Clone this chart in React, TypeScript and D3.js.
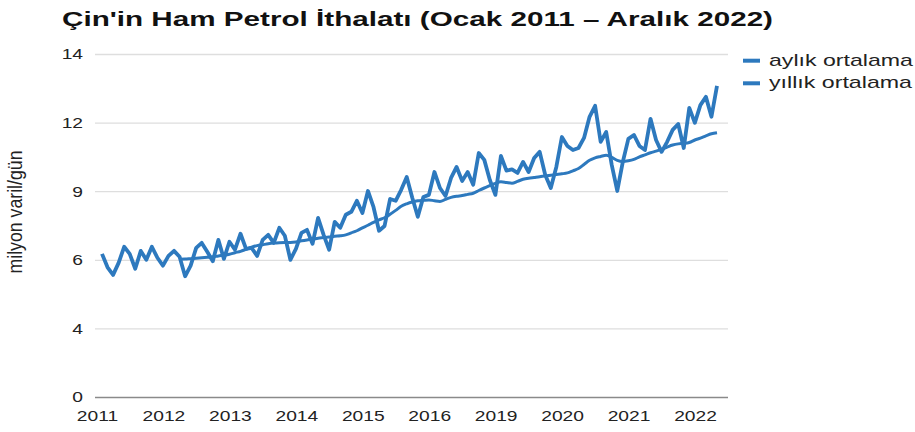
import React, { useEffect, useRef } from 'react';
import * as d3 from 'd3';

const title = "Çin'in Ham Petrol İthalatı (Ocak 2011 – Aralık 2022)";
const yAxisTitle = 'milyon varil/gün';
const seriesNames = ['aylık ortalama', 'yıllık ortalama'];
const yTickLabels = [0, 4, 6, 9, 12, 14];
const xTickLabels = ['2011', '2012', '2013', '2014', '2015', '2016', '2019', '2020', '2021', '2022'];

// monthly values, one per month from the start of the line
const monthly = [
  6.26, 5.78, 5.56, 5.91, 6.57, 6.26, 5.74, 6.39, 6.0, 6.57,
  6.09, 5.83, 6.17, 6.39, 6.13, 5.52, 5.83, 6.52, 6.74, 6.35,
  5.96, 6.87, 6.04, 6.79, 6.44, 7.14, 6.48, 6.52, 6.17, 6.87,
  7.09, 6.74, 7.4, 7.05, 6.0, 6.48, 7.18, 7.31, 6.7, 7.83,
  7.09, 6.44, 7.66, 7.4, 7.97, 8.1, 8.58, 8.05, 9.01, 8.31,
  7.27, 7.48, 8.66, 8.58, 9.06, 9.62, 8.71, 7.88, 8.75, 8.84,
  9.84, 9.14, 8.79, 9.58, 10.06, 9.45, 9.84, 9.28, 10.67, 10.37,
  9.49, 8.84, 10.54, 9.9, 9.95, 9.8, 10.28, 9.84, 10.45, 10.72,
  9.71, 9.14, 10.06, 11.37, 10.98, 10.8, 10.89, 11.33, 12.17, 12.49,
  11.16, 11.59, 10.15, 9.01, 10.28, 11.29, 11.46, 10.98, 10.8, 12.11,
  11.24, 10.72, 11.16, 11.68, 11.94, 10.89, 12.43, 11.99, 12.51, 12.75,
  12.17, 13.07,
];

// yearly average starts a bit later than the monthly line
const yearlyStart = 14;
const yearly = [
  6.02, 6.03, 6.05, 6.07, 6.09, 6.11, 6.13, 6.17, 6.2, 6.24,
  6.31, 6.37, 6.46, 6.55, 6.62, 6.66, 6.7, 6.73, 6.75, 6.76,
  6.76, 6.78, 6.83, 6.87, 6.9, 6.94, 6.97, 7.0, 7.03, 7.05,
  7.09, 7.18, 7.27, 7.4, 7.51, 7.64, 7.75, 7.84, 7.99, 8.16,
  8.34, 8.45, 8.53, 8.58, 8.6, 8.62, 8.58, 8.55, 8.64, 8.73,
  8.78, 8.81, 8.86, 8.91, 9.03, 9.14, 9.24, 9.34, 9.41, 9.38,
  9.35, 9.43, 9.52, 9.57, 9.6, 9.63, 9.67, 9.7, 9.73, 9.76,
  9.8, 9.89, 9.99, 10.17, 10.35, 10.46, 10.52, 10.57, 10.48, 10.35,
  10.3, 10.33, 10.39, 10.5, 10.59, 10.68, 10.75, 10.83, 10.93, 11.02,
  11.07, 11.09, 11.13, 11.24, 11.32, 11.42, 11.51, 11.56,
];

const width = 915;
const height = 432;
const plot = { left: 95, right: 728, top: 54, bottom: 397 };
const blue = '#2d79be';
const font = "'Liberation Sans', Arial, sans-serif";
const stretch = 1.28;

function App() {
  const ref = useRef<SVGSVGElement>(null);

  useEffect(() => {
    const svg = d3.select(ref.current);
    svg.selectAll('*').remove();

    // tick labels are evenly spaced on the picture
    const y = d3
      .scaleLinear()
      .domain(yTickLabels)
      .range(yTickLabels.map((_, i) => plot.bottom - (i * (plot.bottom - plot.top)) / (yTickLabels.length - 1)));

    const xLabel = d3.scalePoint().domain(xTickLabels).range([97, 695]);
    const x = d3.scaleLinear().domain([0, monthly.length - 1]).range([102, 717]);

    const widen = function (this: SVGTextElement) {
      this.setAttribute('textLength', String(this.getComputedTextLength() * stretch));
      this.setAttribute('lengthAdjust', 'spacingAndGlyphs');
    };

    const yAxis = svg
      .append('g')
      .attr('transform', `translate(${plot.left},0)`)
      .call(
        d3
          .axisLeft(y)
          .tickValues(yTickLabels)
          .tickSize(-(plot.right - plot.left))
          .tickPadding(12)
          .tickFormat(d3.format('d'))
      );
    yAxis.select('.domain').remove();
    yAxis
      .selectAll('.tick line')
      .attr('stroke', (d) => (d === 0 ? '#8a8a8a' : '#dedede'))
      .attr('stroke-width', 1.3);
    yAxis
      .selectAll('.tick text')
      .style('font-family', font)
      .style('font-size', '15px')
      .attr('fill', '#222')
      .each(widen);

    const xAxis = svg
      .append('g')
      .attr('transform', `translate(0,${plot.bottom})`)
      .call(d3.axisBottom(xLabel).tickSize(0).tickPadding(13));
    xAxis.select('.domain').remove();
    xAxis
      .selectAll('.tick text')
      .style('font-family', font)
      .style('font-size', '15px')
      .attr('fill', '#222')
      .each(widen);

    const lineMonthly = d3
      .line<number>()
      .x((d, i) => x(i))
      .y((d) => y(d));

    const lineYearly = d3
      .line<number>()
      .x((d, i) => x(i + yearlyStart))
      .y((d) => y(d))
      .curve(d3.curveMonotoneX);

    svg
      .append('path')
      .datum(yearly)
      .attr('d', lineYearly)
      .attr('fill', 'none')
      .attr('stroke', blue)
      .attr('stroke-width', 3)
      .attr('stroke-linejoin', 'round');

    svg
      .append('path')
      .datum(monthly)
      .attr('d', lineMonthly)
      .attr('fill', 'none')
      .attr('stroke', blue)
      .attr('stroke-width', 3.8)
      .attr('stroke-linejoin', 'round');

    svg
      .append('text')
      .attr('x', 62)
      .attr('y', 26)
      .attr('textLength', 711)
      .attr('lengthAdjust', 'spacingAndGlyphs')
      .style('font-family', font)
      .style('font-size', '20px')
      .style('font-weight', 'bold')
      .attr('fill', '#111')
      .text(title);

    svg
      .append('text')
      .attr('transform', `translate(22,212) scale(1.2,1) rotate(-90)`)
      .attr('text-anchor', 'middle')
      .attr('textLength', 123)
      .attr('lengthAdjust', 'spacingAndGlyphs')
      .style('font-family', font)
      .style('font-size', '16.5px')
      .attr('fill', '#222')
      .text(yAxisTitle);

    const legend = svg
      .selectAll('.legend')
      .data(seriesNames)
      .enter()
      .append('g')
      .attr('class', 'legend')
      .attr('transform', (d, i) => `translate(743,${60.7 + i * 22.6})`);

    legend
      .append('line')
      .attr('x1', 0)
      .attr('x2', 17)
      .attr('stroke', blue)
      .attr('stroke-width', 4);

    legend
      .append('text')
      .attr('x', 26)
      .attr('dy', '0.3em')
      .attr('textLength', (d, i) => (i === 0 ? 144 : 143))
      .attr('lengthAdjust', 'spacingAndGlyphs')
      .style('font-family', font)
      .style('font-size', '17px')
      .attr('fill', '#222')
      .text((d) => d);
  }, []);

  return (
    <svg
      ref={ref}
      width={width}
      height={height}
      style={{ position: 'absolute', left: 0, top: 0, background: '#fff' }}
    />
  );
}

export default App;
